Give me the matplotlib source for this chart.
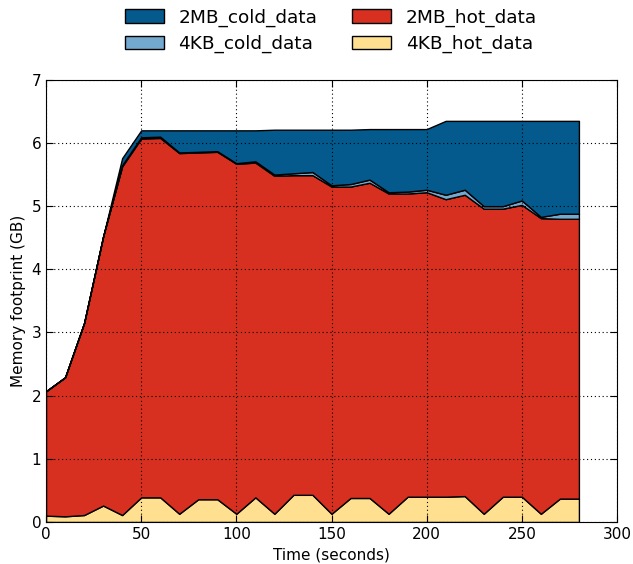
import numpy as np
import matplotlib.pyplot as plt

# sampling times (seconds)
time = np.arange(0, 281, 10)

# memory footprint per page size / hotness (GB)
hot_4kb = [0.10, 0.09, 0.11, 0.26, 0.11, 0.39, 0.39, 0.13, 0.36, 0.36,
           0.13, 0.39, 0.13, 0.43, 0.43, 0.13, 0.38, 0.38, 0.13, 0.40,
           0.40, 0.40, 0.41, 0.13, 0.40, 0.40, 0.13, 0.37, 0.37]
hot_2mb = [1.97, 2.20, 3.04, 4.26, 5.52, 5.68, 5.69, 5.71, 5.49, 5.50,
           5.54, 5.30, 5.35, 5.06, 5.06, 5.18, 4.93, 4.99, 5.07, 4.80,
           4.82, 4.71, 4.77, 4.83, 4.56, 4.62, 4.68, 4.43, 4.43]
cold_4kb = [0.00, 0.00, 0.00, 0.00, 0.02, 0.02, 0.02, 0.01, 0.01, 0.01,
            0.01, 0.02, 0.02, 0.03, 0.05, 0.02, 0.04, 0.05, 0.02, 0.03,
            0.04, 0.07, 0.08, 0.04, 0.04, 0.07, 0.02, 0.08, 0.08]
cold_2mb = [0.00, 0.00, 0.00, 0.00, 0.11, 0.11, 0.10, 0.35, 0.34, 0.33,
            0.52, 0.49, 0.71, 0.69, 0.67, 0.88, 0.86, 0.80, 1.00, 0.99,
            0.96, 1.17, 1.09, 1.35, 1.35, 1.26, 1.52, 1.47, 1.47]

labels = ['4KB_hot_data', '2MB_hot_data', '4KB_cold_data', '2MB_cold_data']
colors = ['#fee090', '#d73020', '#74a9cf', '#045a8d']

fig = plt.figure(figsize=(6.33, 5.64), dpi=100)
ax = fig.add_axes([0.0727, 0.0745, 0.902, 0.784])

polys = ax.stackplot(time, hot_4kb, hot_2mb, cold_4kb, cold_2mb,
                     labels=labels, colors=colors,
                     edgecolor='black', linewidth=1.0)

ax.set_xlim(0, 300)
ax.set_ylim(0, 7)
ax.set_xticks(range(0, 301, 50))
ax.set_yticks(range(0, 8))
ax.grid(True, color='black', linestyle=(0, (1, 2.5)), linewidth=0.8)
ax.set_axisbelow(False)
ax.tick_params(direction='in', top=True, right=True, labelsize=11, length=5)
ax.set_xlabel('Time (seconds)', fontsize=11)
ax.set_ylabel('Memory footprint (GB)', fontsize=11)

# legend: top row cold/hot 2MB, bottom row cold/hot 4KB
order = [3, 2, 1, 0]
fig.legend([polys[i] for i in order], [labels[i] for i in order],
           loc='upper center', bbox_to_anchor=(0.523, 1.0), ncol=2,
           frameon=False, fontsize=13.3, handlelength=2.1, handleheight=0.75,
           columnspacing=1.9, labelspacing=0.45, borderaxespad=0.05)

plt.savefig('out.png')
